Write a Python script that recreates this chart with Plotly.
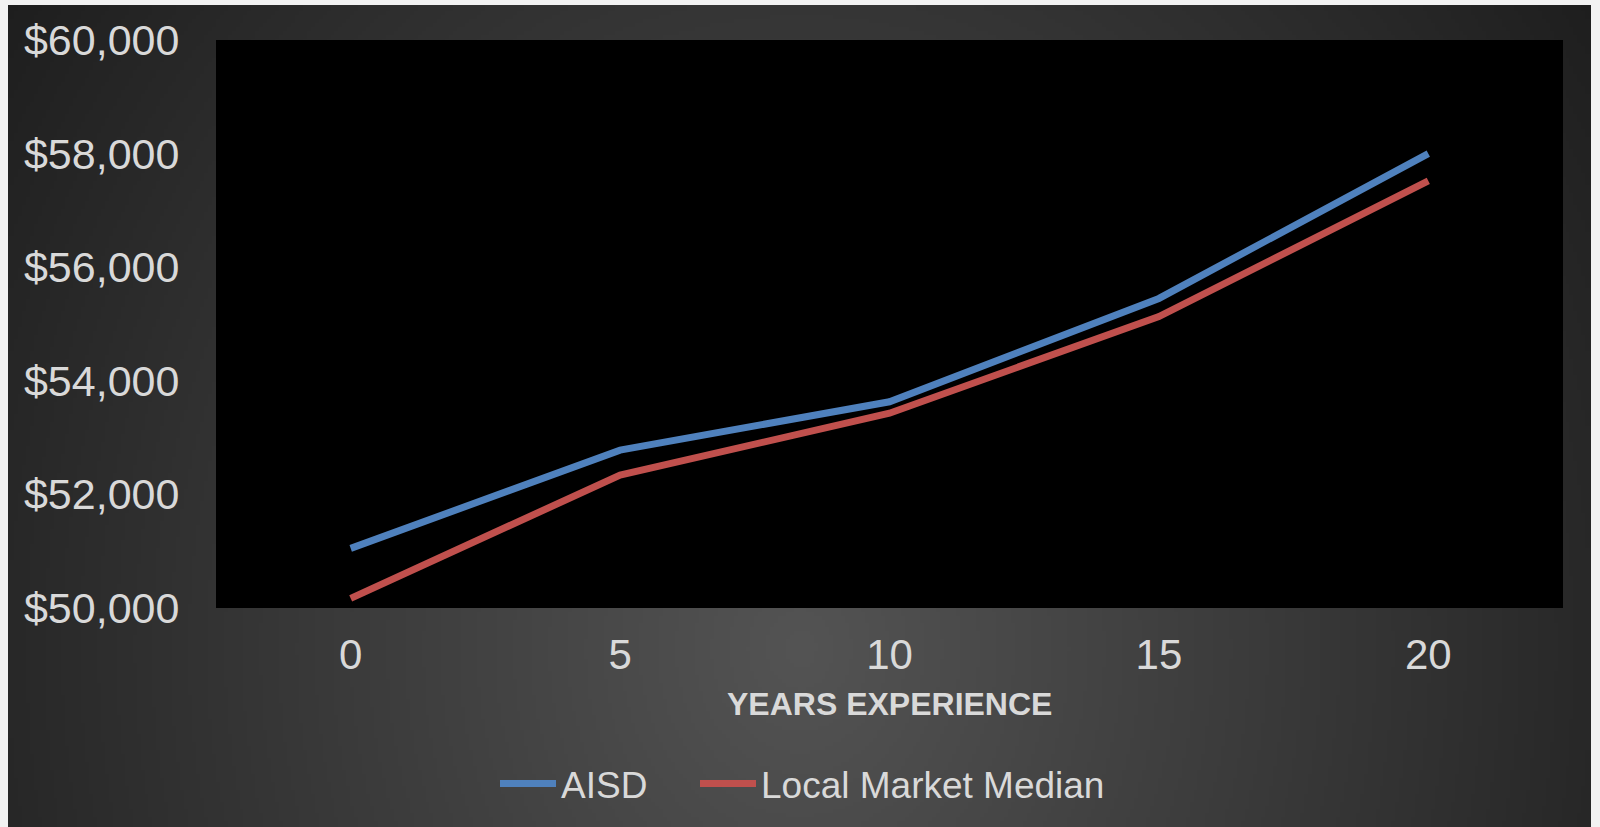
import base64
import struct
import zlib

import numpy as np
import plotly.graph_objects as go

# ---------------- data ----------------
years = ["0", "5", "10", "15", "20"]
aisd = [51050, 52780, 53630, 55450, 58000]
local_median = [50170, 52340, 53430, 55130, 57520]
y_ticks = [50000, 52000, 54000, 56000, 58000, 60000]

# ---------------- background gradient image ----------------
def gradient_png(w, h):
    xs = np.linspace(8, 1591, w)
    ys = np.linspace(5, 827, h)
    X, Y = np.meshgrid(xs, ys)
    d = np.sqrt(((X - 800) / 850.0) ** 2 + ((Y - 650) / 1000.0) ** 2)
    v = np.clip(84 - 47 * d, 30, 90).astype(np.uint8)
    raw = b"".join(b"\x00" + bytes(row) for row in v)

    def chunk(tag, data):
        c = struct.pack(">I", len(data)) + tag + data
        return c + struct.pack(">I", zlib.crc32(tag + data) & 0xFFFFFFFF)

    png = b"\x89PNG\r\n\x1a\n"
    png += chunk(b"IHDR", struct.pack(">IIBBBBB", w, h, 8, 0, 0, 0, 0))
    png += chunk(b"IDAT", zlib.compress(raw, 9))
    png += chunk(b"IEND", b"")
    return "data:image/png;base64," + base64.b64encode(png).decode()


bg_src = gradient_png(400, 208)

# plot area in pixels: x 216..1563, y 40..608
L, R, T, B = 216, 1563, 40, 608
PW, PH = R - L, B - T


def px_x(p):
    return (p - L) / PW


def px_y(p):
    return (B - p) / PH


fig = go.Figure()
fig.add_trace(go.Scatter(x=years, y=aisd, mode="lines", name="AISD",
                         line=dict(color="#4F81BD", width=7), legend="legend"))
fig.add_trace(go.Scatter(x=years, y=local_median, mode="lines", name="Local Market Median",
                         line=dict(color="#C0504D", width=7), legend="legend2"))

text_col = "#D9D9D9"
font_family = "Liberation Sans, Arial, sans-serif"

legend_common = dict(orientation="h", xanchor="left", yanchor="middle", y=px_y(784),
                     font=dict(size=37, color=text_col), bgcolor="rgba(0,0,0,0)",
                     itemwidth=56)

fig.update_layout(
    width=1600, height=827,
    margin=dict(l=L, r=1600 - R, t=T, b=827 - B),
    paper_bgcolor="#F2F2F2",
    plot_bgcolor="rgba(0,0,0,0)",
    font=dict(family=font_family, color=text_col),
    showlegend=True,
    legend=dict(x=px_x(495), **legend_common),
    legend2=dict(x=px_x(695), **legend_common),
    images=[dict(source=bg_src, xref="paper", yref="paper",
                 x=px_x(8), y=px_y(5), sizex=(1591 - 8) / PW, sizey=(827 - 5) / PH,
                 xanchor="left", yanchor="top", sizing="stretch", layer="below")],
    shapes=[dict(type="rect", xref="paper", yref="paper", x0=0, x1=1, y0=0, y1=1,
                 fillcolor="black", line=dict(width=0), layer="below")],
    annotations=[dict(text="<b>YEARS EXPERIENCE</b>", xref="paper", yref="paper",
                      x=0.5, y=px_y(704), xanchor="center", yanchor="middle",
                      showarrow=False, font=dict(size=32, color=text_col))],
)

fig.update_xaxes(type="category", range=[-0.5, 4.5], showgrid=False, zeroline=False,
                 showline=False, ticks="outside", ticklen=10, tickcolor="rgba(0,0,0,0)",
                 tickfont=dict(size=42, color=text_col))
fig.update_yaxes(range=[50000, 60000], tickvals=y_ticks, tickformat="$,.0f",
                 showgrid=False, zeroline=False, showline=False,
                 ticks="outside", ticklen=27, tickcolor="rgba(0,0,0,0)",
                 tickfont=dict(size=43, color=text_col))

fig.write_html("out.html")
